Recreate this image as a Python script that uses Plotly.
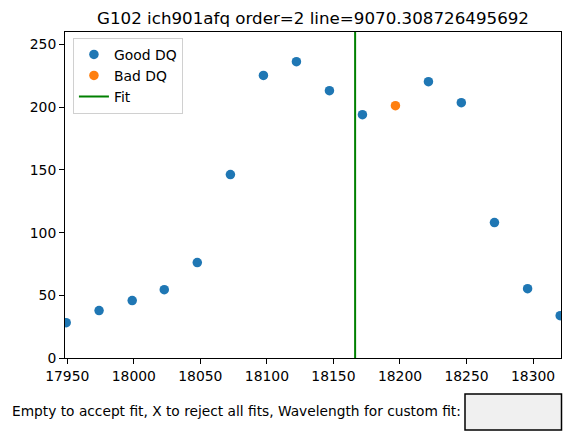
import plotly.graph_objects as go

# ---- data ----
good_wave = [17949.2, 17973.9, 17998.8, 18022.9, 18047.7, 18072.6, 18097.4, 18122.2,
             18147.0, 18171.8, 18221.4, 18246.1, 18271.0, 18295.9, 18320.4]
good_flux = [28.2, 37.8, 45.8, 54.5, 76.1, 146.3, 225.4, 236.4,
             213.2, 194.1, 220.4, 203.7, 108.0, 55.3, 33.8]
bad_wave = [18196.6]
bad_flux = [201.3]
fit_wave = 18166.3

title = "G102 ich901afq order=2 line=9070.308726495692"
prompt = "Empty to accept fit, X to reject all fits, Wavelength for custom fit:"
x_ticks = [17950, 18000, 18050, 18100, 18150, 18200, 18250, 18300]
y_ticks = [0, 50, 100, 150, 200, 250]

ymax = max(good_flux + bad_flux) * 1.1
xmin, xmax = 17948.3, 18321.0

FONT = "DejaVu Sans"
fig = go.Figure()
fig.add_trace(go.Scatter(x=good_wave, y=good_flux, mode="markers", name="Good DQ",
                         marker=dict(color="#1f77b4", size=9.5, line=dict(width=0))))
fig.add_trace(go.Scatter(x=bad_wave, y=bad_flux, mode="markers", name="Bad DQ",
                         marker=dict(color="#ff7f0e", size=9.5, line=dict(width=0))))
fig.add_trace(go.Scatter(x=[fit_wave, fit_wave], y=[0, ymax], mode="lines", name="Fit",
                         line=dict(color="green", width=2)))

axis_common = dict(showline=True, mirror=True, linecolor="black", linewidth=1,
                   showgrid=False, zeroline=False, ticks="outside", ticklen=5,
                   tickwidth=1, tickcolor="black",
                   tickfont=dict(family=FONT, size=13.9, color="black"))

fig.update_layout(
    width=570, height=445,
    margin=dict(l=65, r=9, t=32, b=87),
    paper_bgcolor="white", plot_bgcolor="white",
    title=dict(text=title, x=(65 + 561) / 2 / 570, xanchor="center",
               y=1 - 18 / 445, yanchor="middle",
               font=dict(family=FONT, size=16.7, color="black")),
    xaxis=dict(range=[xmin, xmax], tickvals=x_ticks,
               ticktext=[str(t) for t in x_ticks], **axis_common),
    yaxis=dict(range=[0, ymax], tickvals=y_ticks,
               ticktext=[str(t) for t in y_ticks], **axis_common),
    legend=dict(x=0.016, y=0.982, xanchor="left", yanchor="top",
                bgcolor="rgba(255,255,255,0.8)", bordercolor="#d0d0d0", borderwidth=1,
                font=dict(family=FONT, size=13.9, color="black")),
    showlegend=True,
)

fig.add_annotation(text=prompt, xref="paper", yref="paper",
                   x=(10 - 65) / 496, y=(358 - 411) / 326,
                   xanchor="left", yanchor="middle", showarrow=False,
                   font=dict(family=FONT, size=13.75, color="black"))
fig.add_shape(type="rect", xref="paper", yref="paper",
              x0=(465 - 65) / 496, x1=(561.5 - 65) / 496,
              y0=(358 - 430) / 326, y1=(358 - 394) / 326,
              fillcolor="#f0f0f0", line=dict(color="black", width=1.5))

fig.write_html("out.html")
